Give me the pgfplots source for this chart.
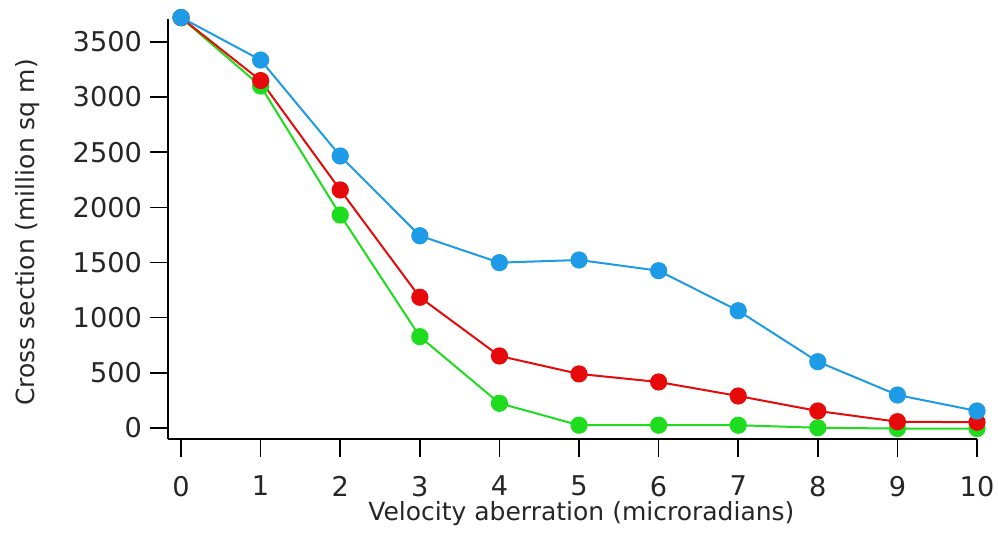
\documentclass[border=0pt]{standalone}
\usepackage{fontspec}
\setmainfont{DejaVu Sans}
\usepackage{pgfplots}
\pgfplotsset{compat=1.18}
\usetikzlibrary{calc}
\definecolor{cblue}{RGB}{30,155,230}
\definecolor{cred}{RGB}{230,10,10}
\definecolor{cgreen}{RGB}{30,220,30}

\begin{document}
\begin{tikzpicture}
\begin{axis}[
    scale only axis,
    width=404.5pt, height=210pt,
    xmin=-0.164, xmax=10, ymin=-100, ymax=3708,
    axis x line*=bottom, axis y line*=left,
    axis line style={line width=1pt},
    xtick={0,...,10}, ytick={0,500,...,3500},
    tick align=outside, major tick length=9pt,
    tick style={line width=0.8pt, black},
    /pgf/number format/assume math mode=true,
    /pgf/number format/1000 sep={},
    ticklabel style={font=\fontsize{13.6}{15}\selectfont, text=black!85},
    xticklabel style={yshift=-6pt},
    yticklabel style={xshift=-0.5pt},
    xlabel={Velocity aberration (microradians)},
    ylabel={Cross section (million sq m)},
    label style={font=\fontsize{12.5}{14}\selectfont, text=black!85},
    xlabel style={at={($(axis description cs:0.511,0)+(0,-40.5pt)$)}, anchor=base},
    ylabel style={at={($(axis description cs:0,0.492)+(-66.5pt,0)$)}, anchor=base},
    clip=false,
    every axis plot/.append style={line width=1pt, mark=*, mark size=3.8pt},
]
\addplot[cgreen, mark options={fill=cgreen, draw=cgreen}] coordinates {
    (0,3720) (1,3100) (2,1931) (3,828) (4,224) (5,25) (6,25) (7,25) (8,2) (9,-5) (10,-5)
};
\addplot[cred, mark options={fill=cred, draw=cred}] coordinates {
    (0,3720) (1,3150) (2,2158) (3,1185) (4,653) (5,490) (6,417) (7,290) (8,154) (9,57) (10,52)
};
\addplot[cblue, mark options={fill=cblue, draw=cblue}] coordinates {
    (0,3722) (1,3336) (2,2466) (3,1743) (4,1499) (5,1523) (6,1426) (7,1063) (8,601) (9,299) (10,154)
};
\coordinate (bl) at (rel axis cs:0,0);
\coordinate (tr) at (rel axis cs:1,1);
\end{axis}
\pgfresetboundingbox
\path (bl) ++(-84pt,-51.5pt) coordinate (bb1);
\path (tr) ++(10.5pt,9.5pt) coordinate (bb2);
\path (bb1) rectangle (bb2);
\end{tikzpicture}
\end{document}
